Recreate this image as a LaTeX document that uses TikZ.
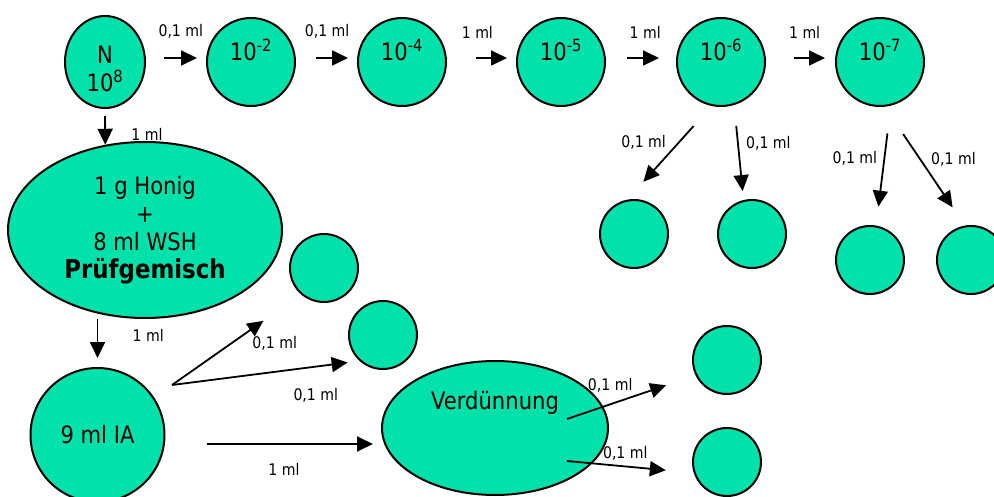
\documentclass[tikz,border=0pt]{standalone}
\usepackage{fontspec}
\setmainfont[FakeStretch=0.88]{DejaVu Sans}
\usepackage{tikz}
\usetikzlibrary{arrows.meta, shapes.geometric, positioning}
\definecolor{mint}{RGB}{0,226,170}

\begin{document}
\begin{tikzpicture}[x=1pt, y=-1pt,
    probe/.style={circle, draw, line width=2pt, fill=mint, inner sep=0pt, minimum size=68pt},
    glas/.style={probe, minimum size=88pt},
    topf/.style={ellipse, draw, line width=2pt, fill=mint, inner sep=0pt},
    pfeil/.style={-{Triangle[length=16pt, width=15pt]}, line width=1.8pt},
    menge/.style={font=\fontsize{16}{18}\selectfont},
    gross/.style={font=\fontsize{24}{28}\selectfont}]
    \useasboundingbox (0,0) rectangle (994,497);

    % 1. Verdünnungsreihe oben
    \node[topf, minimum width=80pt, minimum height=92pt,
          label={[gross, align=center, yshift=-7pt]center:N\\10\textsuperscript{8}}] (n) at (105,62) {};
    \node[glas, label={[gross, yshift=12pt]center:10\textsuperscript{-2}}] (c2) at (251,62) {};
    \node[glas, label={[gross, yshift=12pt]center:10\textsuperscript{-4}}] (c4) at (402,62) {};
    \node[glas, label={[gross, yshift=12pt]center:10\textsuperscript{-5}}] (c5) at (561,62) {};
    \node[glas, label={[gross, yshift=12pt]center:10\textsuperscript{-6}}] (c6) at (721,62) {};
    \node[glas, label={[gross, yshift=12pt]center:10\textsuperscript{-7}}] (c7) at (880,62) {};

    \draw[pfeil, shorten <=18pt, shorten >=9pt] ([yshift=4pt]n.east) -- ([yshift=4pt]c2.west)
        node[pos=0.58, above=15pt, menge] {0,1 ml};
    \draw[pfeil, shorten <=20pt, shorten >=9pt] ([yshift=4pt]c2.east) -- ([yshift=4pt]c4.west)
        node[pos=0.51, above=15pt, menge] {0,1 ml};
    \draw[pfeil, shorten <=29pt, shorten >=9pt] ([yshift=4pt]c4.east) -- ([yshift=4pt]c5.west)
        node[pos=0.44, above=15pt, menge] {1 ml};
    \draw[pfeil, shorten <=21pt, shorten >=17pt] ([yshift=4pt]c5.east) -- ([yshift=4pt]c6.west)
        node[pos=0.56, above=15pt, menge] {1 ml};
    \draw[pfeil, shorten <=28pt, shorten >=10pt] ([yshift=4pt]c6.east) -- ([yshift=4pt]c7.west)
        node[pos=0.56, above=15pt, menge] {1 ml};

    % 2. Ausplattieren aus 10^-6 und 10^-7
    \node[probe] (s1) at (634,234) {};
    \node[probe] (s2) at (752,234) {};
    \node[probe] (s3) at (870,260) {};
    \node[probe] (s4) at (971,260) {};

    \draw[pfeil, shorten <=27pt, shorten >=24pt] (c6.258) -- (s1.101)
        node[pos=0.57, xshift=-20pt, yshift=17pt, menge] {0,1 ml};
    \draw[pfeil, shorten <=21pt, shorten >=9pt] (c6.287) -- (s2.104)
        node[pos=0.4, right=4pt, menge] {0,1 ml};
    \draw[pfeil, shorten <=28pt, shorten >=19pt] (c7.284) -- (s3.80)
        node[pos=0.44, left=3pt, menge] {0,1 ml};
    \draw[pfeil, shorten <=33pt, shorten >=22pt] (c7.276) -- (s4.100)
        node[pos=0.44, right=7pt, menge] {0,1 ml};

    % 3. Prüfgemisch
    \node[topf, minimum width=274pt, minimum height=176pt, align=center, gross] (pg) at (145,230)
        {1 g Honig\\+\\8 ml WSH\\{\fontsize{26}{30}\selectfont\bfseries Prüfgemisch}};
    \draw[pfeil, shorten <=7pt] (n.south) -- (pg.115)
        node[pos=0.7, right=22pt, menge] {1 ml};

    % 4. Impfansatz
    \node[probe, minimum size=134pt, gross] (ia) at (97.5,435) {9 ml IA};
    \draw[pfeil, shorten >=9pt] (pg.south -| ia.north) -- (ia.north)
        node[pos=0.34, right=31pt, menge] {1 ml};

    \node[probe] (ca) at (324,268) {};
    \node[probe] (cb) at (383,335) {};
    \coordinate (gabel) at (172,385);
    \draw[pfeil, shorten >=46pt] (gabel) -- (ca.229)
        node[pos=0.68, below=9pt, xshift=15pt, menge] {0,1 ml};
    \draw[pfeil, shorten >=12pt] (gabel) -- (cb.228)
        node[pos=0.745, below=17pt, xshift=4pt, menge] {0,1 ml};

    % 5. Verdünnung
    \node[topf, minimum width=226pt, minimum height=134pt,
          label={[gross, yshift=25pt]center:Verdünnung}] (vd) at (495,428) {};
    \draw[pfeil, shorten <=41pt, shorten >=8pt] ([yshift=-9pt]ia.east) -- ([yshift=-9pt]ia.east -| vd.west)
        node[pos=0.55, below=15pt, menge] {1 ml};

    \node[probe] (cc) at (727,360) {};
    \node[probe] (cd) at (727,462) {};
    \coordinate (v1) at (567,419);
    \coordinate (v2) at (567,461);
    \draw[pfeil, shorten >=31pt] (v1) -- (cc.206)
        node[pos=0.375, above=6pt, xshift=-5pt, menge] {0,1 ml};
    \draw[pfeil, shorten >=28pt] (v2) -- (cd.198)
        node[pos=0.46, above=2pt, menge] {0,1 ml};
\end{tikzpicture}
\end{document}
